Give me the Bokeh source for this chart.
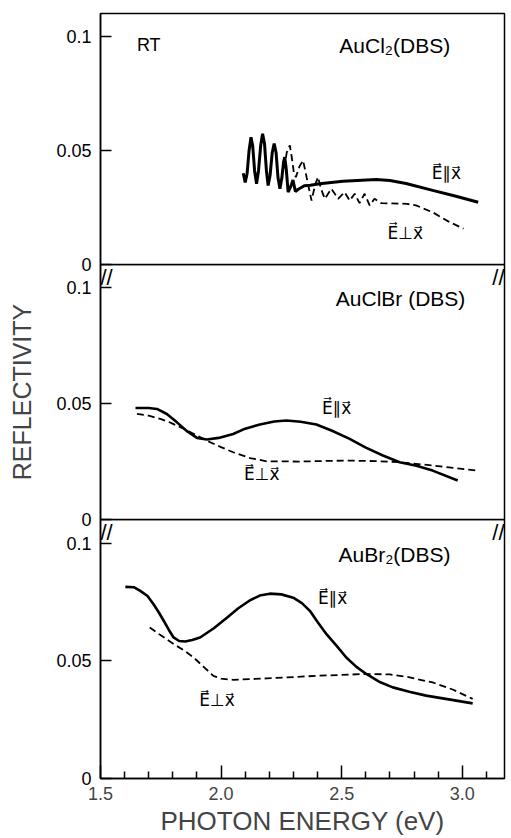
from bokeh.plotting import figure
from bokeh.layouts import column
from bokeh.models import FixedTicker, Range1d, Label, ColumnDataSource
from bokeh.core.properties import value
from bokeh.embed import file_html
from bokeh.resources import INLINE

FONT = "Liberation Sans"
SYM_FONT = "DejaVu Sans"

# ---- data (photon energy eV, reflectivity) ----
aucl2_par_x = [2.092, 2.100, 2.108, 2.116, 2.124, 2.131, 2.139, 2.147, 2.155, 2.164, 2.172, 2.180, 2.188,
               2.195, 2.203, 2.212, 2.220, 2.228, 2.236, 2.244, 2.252, 2.259, 2.264, 2.270, 2.278, 2.288,
               2.298, 2.308, 2.320, 2.345, 2.37, 2.409, 2.505, 2.643, 2.70, 2.767, 2.877, 2.97, 3.066]
aucl2_par_y = [0.040, 0.036, 0.040, 0.050, 0.0558, 0.052, 0.041, 0.0354, 0.041, 0.052, 0.0573, 0.053, 0.041,
               0.0346, 0.039, 0.049, 0.053, 0.049, 0.038, 0.0332, 0.038, 0.045, 0.047, 0.042, 0.0317, 0.034,
               0.037, 0.032, 0.033, 0.0345, 0.0347, 0.0354, 0.0365, 0.0373, 0.0368, 0.0355, 0.0325, 0.030, 0.0273]
aucl2_perp_x = [2.262, 2.272, 2.285, 2.293, 2.302, 2.31, 2.325, 2.34, 2.355, 2.375, 2.39, 2.402, 2.415, 2.43,
                2.457, 2.485, 2.512, 2.533, 2.554, 2.574, 2.595, 2.616, 2.636, 2.664, 2.70, 2.77, 2.808,
                2.877, 2.94, 3.005]
aucl2_perp_y = [0.042, 0.049, 0.0522, 0.047, 0.040, 0.0383, 0.043, 0.0456, 0.038, 0.028, 0.035, 0.0383, 0.033,
                0.0288, 0.0332, 0.0288, 0.0317, 0.028, 0.031, 0.0269, 0.031, 0.0259, 0.0288, 0.0269, 0.0268,
                0.0266, 0.0259, 0.0229, 0.019, 0.0157]

auclbr_par_x = [1.645, 1.70, 1.734, 1.775, 1.817, 1.86, 1.90, 1.941, 1.99, 2.05, 2.10, 2.161, 2.22, 2.271,
                2.33, 2.395, 2.46, 2.533, 2.60, 2.671, 2.74, 2.81, 2.877, 2.981]
auclbr_par_y = [0.0481, 0.0481, 0.0477, 0.0455, 0.0419, 0.038, 0.0352, 0.0345, 0.0352, 0.0369, 0.0392, 0.041,
                0.0423, 0.0427, 0.0422, 0.041, 0.0383, 0.0348, 0.031, 0.0276, 0.0247, 0.0232, 0.0211, 0.0168]
auclbr_perp_x = [1.651, 1.70, 1.748, 1.79, 1.831, 1.89, 1.941, 2.00, 2.05, 2.12, 2.189, 2.326, 2.45, 2.533,
                 2.64, 2.74, 2.877, 3.063]
auclbr_perp_y = [0.0456, 0.0448, 0.0434, 0.0418, 0.0398, 0.0368, 0.034, 0.0312, 0.029, 0.0265, 0.0251, 0.025,
                 0.0253, 0.0254, 0.0252, 0.0247, 0.0233, 0.0211]

aubr2_par_x = [1.603, 1.64, 1.665, 1.695, 1.72, 1.742, 1.762, 1.783, 1.803, 1.826, 1.851, 1.88, 1.913, 1.97,
               2.024, 2.07, 2.12, 2.16, 2.202, 2.25, 2.299, 2.335, 2.368, 2.40, 2.437, 2.48, 2.519, 2.56,
               2.602, 2.655, 2.712, 2.78, 2.85, 2.95, 3.043]
aubr2_par_y = [0.0814, 0.0812, 0.0797, 0.0775, 0.074, 0.0705, 0.067, 0.0632, 0.0599, 0.0584, 0.0582, 0.0588,
               0.0599, 0.0638, 0.0683, 0.0722, 0.0757, 0.0777, 0.0785, 0.0782, 0.0768, 0.0745, 0.0712, 0.0665,
               0.0613, 0.0562, 0.0514, 0.0475, 0.0444, 0.0411, 0.0387, 0.0368, 0.0352, 0.0335, 0.0319]
aubr2_perp_x = [1.704, 1.75, 1.803, 1.845, 1.886, 1.93, 1.968, 2.00, 2.051, 2.189, 2.395, 2.602, 2.70, 2.77,
                2.877, 2.96, 3.043]
aubr2_perp_y = [0.0641, 0.0608, 0.0571, 0.0545, 0.0514, 0.0472, 0.0436, 0.0424, 0.0419, 0.0425, 0.0436, 0.0444,
                0.0442, 0.0432, 0.0408, 0.0378, 0.0338]

panel_titles = ["AuCl₂(DBS)", "AuClBr (DBS)", "AuBr₂(DBS)"]
panel_title_x = [2.72, 2.744, 2.719]
panel_title_y = [0.096, 0.0953, 0.0953]
par_label = "E⃗∥x⃗"
perp_label = "E⃗⊥x⃗"
par_label_x = [2.934, 2.479, 2.463]
par_label_y = [0.040, 0.0483, 0.0767]
perp_label_x = [2.764, 2.169, 1.983]
perp_label_y = [0.014, 0.0198, 0.0335]
rt_text = "RT"

y_ticks = [0, 0.05, 0.1]
y_tick_labels = {0: "0", 0.05: "0.05", 0.1: "0.1"}
x_major = [1.5, 2.0, 2.5, 3.0]
x_minor = [1.6, 1.7, 1.8, 1.9, 2.1, 2.2, 2.3, 2.4, 2.6, 2.7, 2.8, 2.9, 3.1]
x_tick_labels = {1.5: "1.5", 2.0: "2.0", 2.5: "2.5", 3.0: "3.0"}

XR = (1.5, 3.175)
YR = (0.0, 0.11)

series = [
    (aucl2_par_x, aucl2_par_y, aucl2_perp_x, aucl2_perp_y),
    (auclbr_par_x, auclbr_par_y, auclbr_perp_x, auclbr_perp_y),
    (aubr2_par_x, aubr2_par_y, aubr2_perp_x, aubr2_perp_y),
]

OV = 14
heights = [251 + 13 + OV, 255 + OV, 319]
tops = [13, 0, 0]
bottoms = [OV, OV, 60]
margins = [(0, 0, -OV, 0), (0, 0, -OV, 0), (0, 0, 0, 0)]
solid_widths = [3.0, 2.6, 2.6]

figs = []
for i in range(3):
    p = figure(width=510, height=heights[i], output_backend="svg", toolbar_location=None,
               x_range=Range1d(*XR), y_range=Range1d(*YR),
               min_border_left=100, min_border_right=6,
               min_border_top=tops[i], min_border_bottom=bottoms[i], margin=margins[i])
    p.grid.visible = False
    p.outline_line_color = "black"
    p.outline_line_width = 1.5
    p.background_fill_alpha = 0
    p.border_fill_alpha = 0

    ya = p.yaxis[0]
    ya.ticker = FixedTicker(ticks=y_ticks)
    ya.major_label_overrides = y_tick_labels
    ya.major_tick_in = 11
    ya.major_tick_out = 0
    ya.minor_tick_line_color = None
    ya.axis_line_width = 1.5
    ya.major_tick_line_width = 1.5
    ya.major_label_text_font = FONT
    ya.major_label_text_font_size = "18px"
    ya.major_label_text_color = "black"
    ya.major_label_standoff = 9

    xa = p.xaxis[0]
    if i < 2:
        xa.visible = False
    else:
        xa.ticker = FixedTicker(ticks=x_major, minor_ticks=x_minor)
        xa.major_label_overrides = x_tick_labels
        xa.major_tick_in = 13
        xa.major_tick_out = 0
        xa.minor_tick_in = 7
        xa.minor_tick_out = 0
        xa.axis_line_width = 1.5
        xa.major_tick_line_width = 1.5
        xa.minor_tick_line_width = 1.5
        xa.major_label_text_font = FONT
        xa.major_label_text_font_size = "18px"
        xa.major_label_standoff = 8
        xa.axis_label = "PHOTON ENERGY (eV)"
        xa.axis_label_text_font = FONT
        xa.axis_label_text_font_size = "26px"
        xa.axis_label_text_font_style = "normal"
        xa.axis_label_standoff = 3

    if i == 1:
        ya.axis_label = "REFLECTIVITY"
        ya.axis_label_text_font = FONT
        ya.axis_label_text_font_size = "25px"
        ya.axis_label_text_font_style = "normal"
        ya.axis_label_standoff = 17

    px, py, qx, qy = series[i]
    p.line(px, py, line_color="black", line_width=solid_widths[i])
    p.line(qx, qy, line_color="black", line_width=1.8, line_dash="7 4")

    src = ColumnDataSource(dict(
        x=[panel_title_x[i]],
        y=[panel_title_y[i]],
        t=[panel_titles[i]],
    ))
    p.text(x="x", y="y", text="t", source=src, text_font=value(FONT), text_font_size="21px",
           text_align="center", text_baseline="middle", text_color="black")
    lsrc = ColumnDataSource(dict(
        x=[par_label_x[i], perp_label_x[i]],
        y=[par_label_y[i], perp_label_y[i]],
        t=[par_label, perp_label],
    ))
    p.text(x="x", y="y", text="t", source=lsrc, text_font=value(SYM_FONT), text_font_size="17px",
           text_align="center", text_baseline="middle", text_color="black")
    if i == 0:
        p.text(x=[1.70], y=[0.096], text=[rt_text], text_font=value(FONT), text_font_size="18px",
               text_align="center", text_baseline="middle", text_color="black")
    else:
        for xx, al in ((XR[0], "left"), (XR[1], "right")):
            p.add_layout(Label(x=xx, y=YR[1], text="//", text_font=FONT, text_font_size="22px",
                               text_align=al, text_baseline="middle", y_offset=-13,
                               text_color="black"))
    figs.append(p)

layout = column(*figs, spacing=0)
open("out.html", "w").write(file_html(layout, INLINE))
